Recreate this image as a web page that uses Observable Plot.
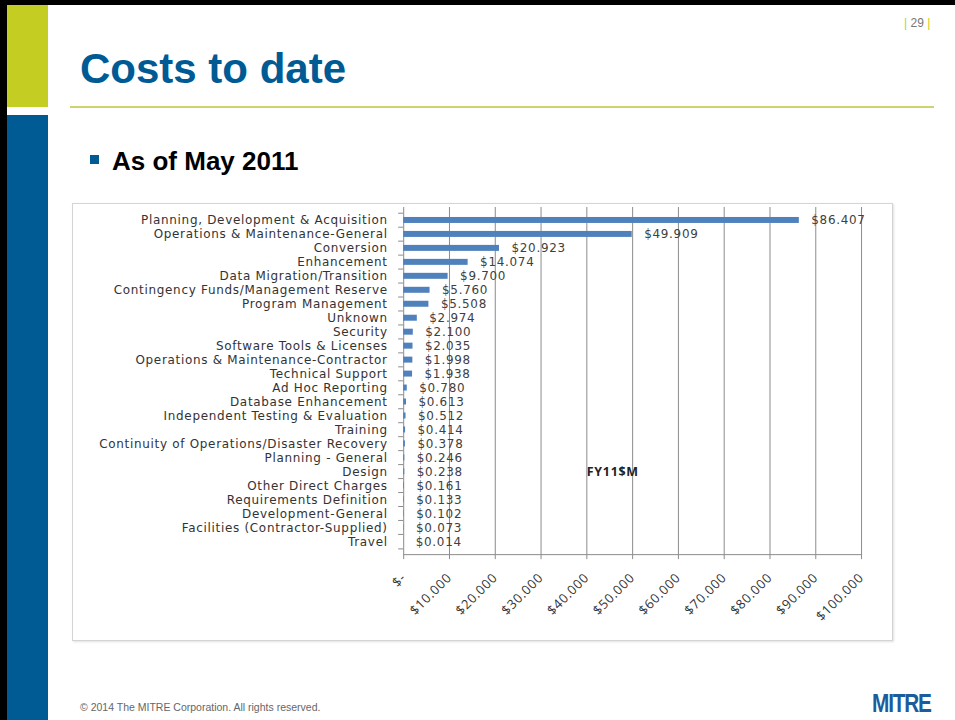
<!DOCTYPE html>
<html>
<head>
<meta charset="utf-8">
<script src="https://cdn.jsdelivr.net/npm/d3@7"></script>
<script src="https://cdn.jsdelivr.net/npm/@observablehq/plot@0.6"></script>
<style>
  html, body { margin: 0; padding: 0; background: #fff; }
  #slide { position: relative; width: 955px; height: 720px; overflow: hidden; background: #fff; font-family: "Liberation Sans", Arial, sans-serif; }
  .abs { position: absolute; }
  #chartbox { position: absolute; left: 72px; top: 203px; width: 819px; height: 436px; border: 1px solid #d4d4d4; box-shadow: 1px 1px 2px rgba(0,0,0,0.12); background: #fff; }
  #chartbox svg { position: absolute; left: -1px; top: -1px; }
</style>
</head>
<body>
<div id="slide">
  <div class="abs" style="left:0;top:0;width:955px;height:5px;background:#000"></div>
  <div class="abs" style="left:0;top:0;width:7px;height:720px;background:#000"></div>
  <div class="abs" style="left:7px;top:5px;width:41px;height:102px;background:#c4cd22"></div>
  <div class="abs" style="left:7px;top:115px;width:41px;height:605px;background:#005a94"></div>
  <div class="abs" style="left:80px;top:44px;font-size:42px;font-weight:bold;color:#005a94;line-height:50px;white-space:nowrap">Costs to date</div>
  <div class="abs" style="left:70px;top:106px;width:864px;height:2px;background:#cdd56a"></div>
  <div class="abs" style="left:904px;top:16px;font-size:12px;color:#777;white-space:nowrap"><span style="color:#c4cd22">|</span> 29 <span style="color:#c4cd22">|</span></div>
  <div class="abs" style="left:90px;top:155px;width:9px;height:9px;background:#005a94"></div>
  <div class="abs" style="left:112px;top:146px;font-size:26px;font-weight:bold;color:#000;line-height:30px;white-space:nowrap">As of May 2011</div>
  <div id="chartbox"></div>
  <div class="abs" style="left:80px;top:701px;font-size:10.5px;color:#666;white-space:nowrap">© 2014 The MITRE Corporation. All rights reserved.</div>
  <div class="abs" style="left:872px;top:688px;font-size:26px;font-weight:bold;color:#1b5c9c;letter-spacing:-1.5px;transform:scaleX(0.8);transform-origin:left top;white-space:nowrap">MITRE</div>
</div>
<script>
const categories = [
  "Planning, Development & Acquisition",
  "Operations & Maintenance-General",
  "Conversion",
  "Enhancement",
  "Data Migration/Transition",
  "Contingency Funds/Management Reserve",
  "Program Management",
  "Unknown",
  "Security",
  "Software Tools & Licenses",
  "Operations & Maintenance-Contractor",
  "Technical Support",
  "Ad Hoc Reporting",
  "Database Enhancement",
  "Independent Testing & Evaluation",
  "Training",
  "Continuity of Operations/Disaster Recovery",
  "Planning - General",
  "Design",
  "Other Direct Charges",
  "Requirements Definition",
  "Development-General",
  "Facilities (Contractor-Supplied)",
  "Travel"
];
const values = [86.407, 49.909, 20.923, 14.074, 9.700, 5.760, 5.508, 2.974, 2.100, 2.035, 1.998, 1.938,
  0.780, 0.613, 0.512, 0.414, 0.378, 0.246, 0.238, 0.161, 0.133, 0.102, 0.073, 0.014];
const xTicks = [0, 10, 20, 30, 40, 50, 60, 70, 80, 90, 100];
const gridTicks = [10, 20, 30, 40, 50, 60, 70, 80, 90, 100];
const unitLabel = "FY11$M";

const data = categories.map((c, i) => ({category: c, value: values[i]}));
const fmt = d => d === 0 ? "$-" : "$" + d.toFixed(3);
const tickFont = "'Open Sans', Lato, sans-serif";
const axisGrey = "#8c8c8c";

const W = 821, H = 438, mL = 332, mR = 30, mT = 4, mB = 86;
const step = (H - mT - mB) / categories.length;

const chart = Plot.plot({
  width: W,
  height: H,
  marginLeft: mL,
  marginRight: mR,
  marginTop: mT,
  marginBottom: mB,
  style: "font-family: 'DejaVu Sans', 'Open Sans', sans-serif; font-size: 12px; letter-spacing: 0.7px; color: #333; background: transparent; overflow: visible;",
  x: {domain: [0, 100], ticks: xTicks},
  y: {domain: categories, paddingInner: 0.6, paddingOuter: 0.3, align: 0.5},
  marks: [
    Plot.ruleX(gridTicks, {stroke: axisGrey, strokeWidth: 1}),
    Plot.ruleX([0], {stroke: axisGrey}),
    Plot.frame({anchor: "bottom", stroke: axisGrey}),
    Plot.ruleY(categories, {y: d => d, x1: -1.1, x2: 0, dy: -step / 2, stroke: axisGrey}),
    Plot.ruleY(categories.slice(-1), {y: d => d, x1: -1.1, x2: 0, dy: step / 2, stroke: axisGrey}),
    Plot.barX(data, {x: "value", y: "category", fill: "#4f81bd"}),
    Plot.text(data, {x: "value", y: "category", text: d => fmt(d.value), dx: 12, textAnchor: "start", fill: "#404040", fontSize: 12}),
    Plot.text([unitLabel], {x: 40, y: () => "Design", text: d => d, textAnchor: "start", fontWeight: "bold", fontSize: 12.5, fill: "#222", fontFamily: tickFont}),
    Plot.axisY({tickSize: 0, tickPadding: 16, fontSize: 12, fill: "#333", label: null}),
    Plot.axisX({ticks: xTicks, tickFormat: fmt, tickRotate: -45, tickSize: 5, tickPadding: 16, stroke: axisGrey, fill: "#333", fontSize: 13, fontFamily: tickFont, label: null})
  ]
});
document.getElementById("chartbox").appendChild(chart);
</script>
</body>
</html>
